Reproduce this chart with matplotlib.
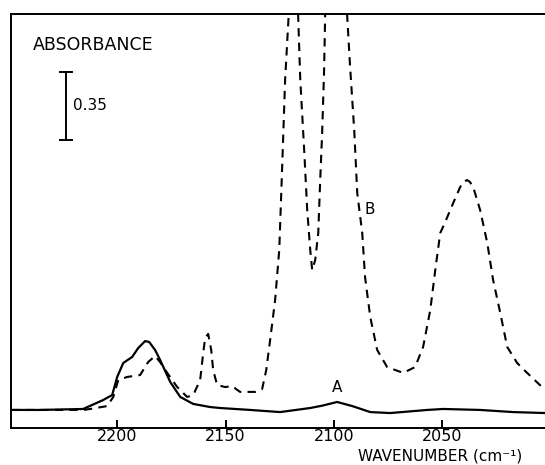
import matplotlib
matplotlib.use("Agg")
import matplotlib.pyplot as plt

# Spectrum A (solid) - wavenumber (cm-1) and absorbance
wn_a = [2249, 2235.5, 2215.7, 2206.5, 2202.3, 2200.0, 2197.2, 2193.1, 2190.3,
        2187.1, 2185.2, 2182.5, 2180.2, 2175.5, 2170.9, 2164.9, 2157.1, 2152.5,
        2138.6, 2124.8, 2110.9, 2105.4, 2098.5, 2091.5, 2083.2, 2074.0, 2056.9,
        2049.5, 2032.5, 2017.2, 2002.5]
abs_a = [0.093, 0.093, 0.098, 0.144, 0.170, 0.263, 0.335, 0.366, 0.412,
         0.448, 0.443, 0.402, 0.351, 0.237, 0.160, 0.124, 0.108, 0.103,
         0.093, 0.082, 0.103, 0.115, 0.134, 0.113, 0.082, 0.077, 0.093,
         0.098, 0.093, 0.082, 0.077]

# Spectrum B (dashed)
wn_b = [2249, 2215.7, 2212.5, 2204.6, 2201.8, 2199.5, 2195.4, 2189.4, 2185.7,
        2182.5, 2180.2, 2176.9, 2172.3, 2167.7, 2164.9, 2161.7, 2160.3, 2159.4,
        2158.0, 2156.6, 2155.7, 2153.9, 2150.2, 2147.0, 2143.3, 2136.3, 2133.1,
        2131.2, 2129.4, 2127.1, 2125.2, 2123.9, 2122.5, 2119.0, 2116.5, 2115.5,
        2113.7, 2112.3, 2110.9, 2110.0, 2108.6, 2107.2, 2106.3, 2105.4, 2104.5,
        2104.0, 2099.0, 2093.9, 2092.5, 2090.6, 2089.2, 2086.9, 2085.6, 2083.2,
        2080.0, 2075.4, 2068.0, 2062.5, 2058.8, 2055.5, 2053.2, 2050.9, 2048.6,
        2044.9, 2041.7, 2040.3, 2038.5, 2037.2, 2035.7, 2032.5, 2029.2, 2026.5,
        2023.2, 2020.0, 2015.4, 2010.8, 2002.5]
abs_b = [0.093, 0.093, 0.098, 0.113, 0.160, 0.247, 0.263, 0.273, 0.340,
         0.371, 0.340, 0.284, 0.211, 0.160, 0.170, 0.247, 0.387, 0.464,
         0.485, 0.402, 0.299, 0.222, 0.211, 0.216, 0.186, 0.186, 0.201,
         0.299, 0.454, 0.660, 0.918, 1.330, 1.794, 2.500, 2.134, 1.794,
         1.433, 1.124, 0.918, 0.814, 0.866, 1.005, 1.278, 1.521, 1.845,
         2.134, 2.600, 2.134, 1.861, 1.536, 1.211, 1.005, 0.778, 0.572,
         0.402, 0.314, 0.284, 0.314, 0.418, 0.608, 0.814, 1.005, 1.062,
         1.160, 1.242, 1.268, 1.278, 1.268, 1.242, 1.124, 0.954, 0.763,
         0.593, 0.418, 0.335, 0.284, 0.196]

xticks = [2200, 2150, 2100, 2050]
scale_bar = 0.35

fig = plt.figure(figsize=(5.45, 4.65), dpi=100)
ax = fig.add_axes([0.0202, 0.0796, 0.98, 0.8903])

ax.plot(wn_a, abs_a, color="black", lw=1.6, solid_joinstyle="round")
ax.plot(wn_b, abs_b, color="black", lw=1.5, linestyle=(0, (4, 3)))

ax.set_xlim(2249, 2002.5)
ax.set_ylim(0, 2.134)

ax.set_xticks(xticks)
ax.set_yticks([])
ax.tick_params(axis="x", direction="in", length=6, width=1.4, pad=1,
               labelsize=11.5)
for side in ["left", "bottom", "top"]:
    ax.spines[side].set_linewidth(1.4)
ax.spines["right"].set_visible(False)

# absorbance scale bar
bx = 2223.5
y0 = 1.485
ax.plot([bx, bx], [y0, y0 + scale_bar], color="black", lw=1.4)
ax.plot([bx - 2.8, bx + 2.8], [y0, y0], color="black", lw=1.4)
ax.plot([bx - 2.8, bx + 2.8], [y0 + scale_bar, y0 + scale_bar], color="black", lw=1.4)
ax.text(2220.3, y0 + scale_bar / 2, "0.35", fontsize=11, va="center", ha="left")
ax.text(2238.8, 1.974, "ABSORBANCE", fontsize=12.5, va="center", ha="left")

ax.text(2098.3, 0.21, "A", fontsize=11, ha="center", va="center")
ax.text(2083.5, 1.124, "B", fontsize=11, ha="center", va="center")

fig.text(0.958, 0.004, "WAVENUMBER (cm\u207b\u00b9)", fontsize=11, ha="right",
         va="bottom")

fig.savefig("out.png", dpi=100)
